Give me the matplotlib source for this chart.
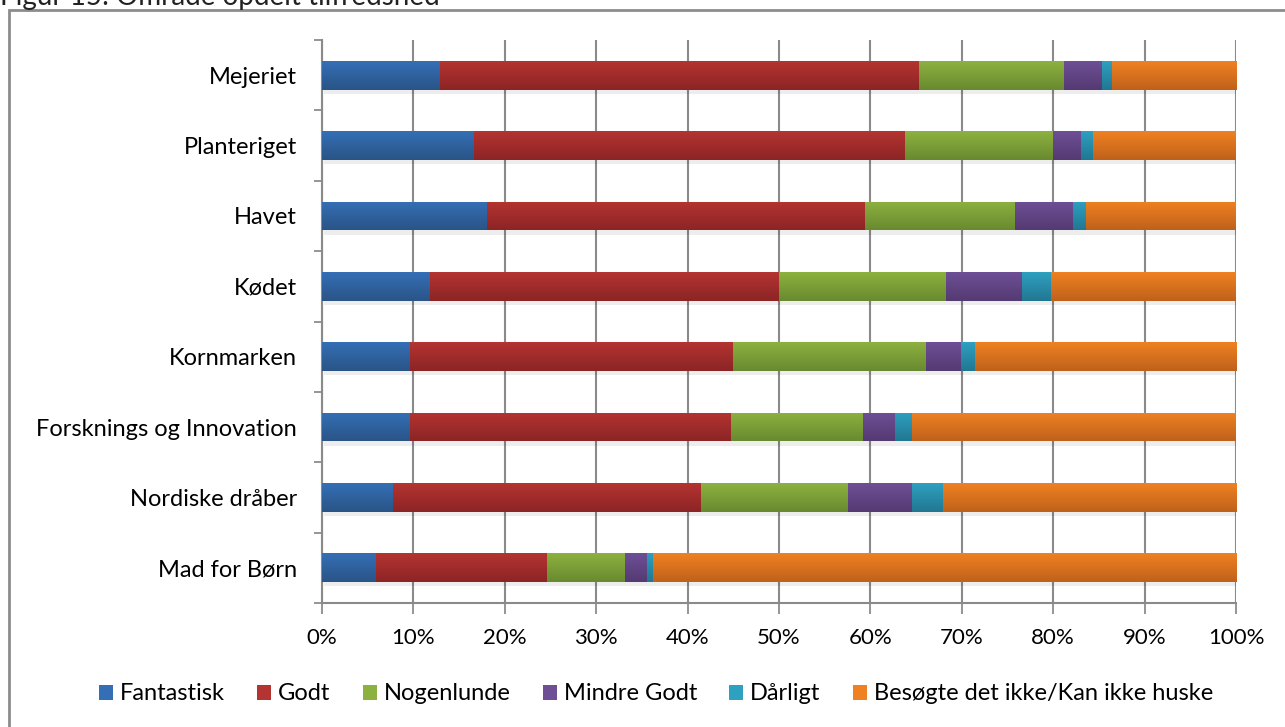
import numpy as np
import matplotlib
matplotlib.use('Agg')
import matplotlib.pyplot as plt
from matplotlib.patches import Rectangle, Patch
from matplotlib.colors import LinearSegmentedColormap

plt.rcParams['font.family'] = ['Lato', 'DejaVu Sans']

# Andele (%) pr. område, nederste kategori først
omraader = ['Mad for Børn', 'Nordiske dråber', 'Forsknings og Innovation',
            'Kornmarken', 'Kødet', 'Havet', 'Planteriget', 'Mejeriet']
fantastisk = [5.9, 7.8, 9.6, 9.6, 11.8, 18.1, 16.6, 12.9]
godt = [18.7, 33.7, 35.1, 35.4, 38.2, 41.3, 47.2, 52.4]
nogenlunde = [8.6, 16.0, 14.5, 21.1, 18.3, 16.4, 16.2, 15.9]
mindre_godt = [2.4, 7.1, 3.5, 3.8, 8.3, 6.4, 3.0, 4.1]
daarligt = [0.6, 3.3, 1.9, 1.5, 3.2, 1.4, 1.4, 1.1]
ikke_besoegt = [63.8, 32.1, 35.4, 28.6, 20.2, 16.4, 15.6, 13.6]

serier = ['Fantastisk', 'Godt', 'Nogenlunde', 'Mindre Godt', 'Dårligt',
          'Besøgte det ikke/Kan ikke huske']
vaerdier = [fantastisk, godt, nogenlunde, mindre_godt, daarligt, ikke_besoegt]

# (top, bund) farver til gradient
farver = [('#346fb6', '#2a5486'),
          ('#b43431', '#8c2425'),
          ('#8db13f', '#688a30'),
          ('#6e4f96', '#543a72'),
          ('#2ea0c0', '#217792'),
          ('#ef8122', '#bf611b')]

fig = plt.figure(figsize=(12.85, 7.27), dpi=100)
ax = fig.add_axes([322 / 1285, 1 - 603 / 727, 914 / 1285, 563 / 727])

y = np.arange(len(omraader))
hoejde = 0.41
venstre = np.zeros(len(omraader))
for navn, v, (top, bund) in zip(serier, vaerdier, farver):
    v = np.array(v)
    bars = ax.barh(y, v, left=venstre, height=hoejde, color=top,
                   edgecolor='none', zorder=3, label=navn)
    cmap = LinearSegmentedColormap.from_list(navn, [bund, top])
    grad = np.linspace(0, 1, 64).reshape(-1, 1)
    for b in bars:
        x0, y0 = b.get_x(), b.get_y()
        w, h = b.get_width(), b.get_height()
        # svag skygge under bjælken
        ax.add_patch(Rectangle((x0 + 0.2, y0 - 0.06), w, h, facecolor='#000000',
                               alpha=0.07, edgecolor='none', zorder=2))
        im = ax.imshow(grad, extent=[x0, x0 + w, y0, y0 + h], origin='lower',
                       cmap=cmap, aspect='auto', zorder=4, interpolation='bilinear')
        im.set_clip_path(b)
    venstre += v

ax.set_xlim(0, 100)
ax.set_ylim(-0.5, len(omraader) - 0.5)
ax.set_xticks(np.arange(0, 101, 10))
ax.set_xticklabels([f'{t}%' for t in range(0, 101, 10)], fontsize=16)
ax.set_yticks(y)
ax.set_yticklabels(omraader, fontsize=17)
ax.tick_params(axis='y', length=0, pad=18)
ax.tick_params(axis='x', length=8, width=1.3, color='#8c8c8c', pad=10)
ax.set_yticks(np.arange(-0.5, len(omraader), 1), minor=True)
ax.tick_params(axis='y', which='minor', length=6, width=1.3, color='#8c8c8c')

ax.grid(axis='x', color='#8a8a8a', linewidth=1.5, zorder=0)
ax.set_axisbelow(True)
for side in ['top', 'right']:
    ax.spines[side].set_visible(False)
for side in ['left', 'bottom']:
    ax.spines[side].set_color('#8a8a8a')
    ax.spines[side].set_linewidth(1.5)

handles = [Patch(facecolor=top, edgecolor='none') for top, _ in farver]
fig.legend(handles, serier, loc='center', bbox_to_anchor=(656 / 1285, 1 - 694 / 727),
           ncol=6, frameon=False, fontsize=17, handlelength=0.6, handleheight=0.6,
           handletextpad=0.3, columnspacing=1.35)

# ramme om diagrammet
fig.add_artist(Rectangle((9 / 1285, -0.05), 1.1, 1 - 10 / 727 + 0.05,
                         transform=fig.transFigure, fill=False,
                         edgecolor='#8c8c8c', linewidth=2))
fig.text(0, 1 - 5 / 727, 'Figur 15: Område opdelt tilfredshed', fontsize=20,
         color='#222222', ha='left', va='baseline')

fig.savefig('out.png', dpi=100, facecolor='white')
